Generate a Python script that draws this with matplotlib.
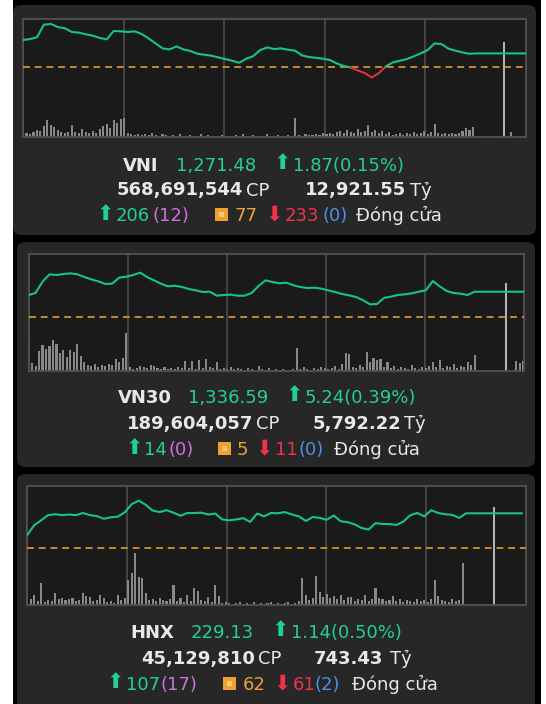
import numpy as np
import matplotlib
matplotlib.use("Agg")
import matplotlib.pyplot as plt
from matplotlib.patches import FancyBboxPatch, Rectangle

plt.rcParams['font.family'] = ['DejaVu Sans']

# ---- index summary data ----
names = ["VNI", "VN30", "HNX"]
close = [1271.48, 1336.59, 229.13]
change = [1.87, 5.24, 1.14]
pct = [0.15, 0.39, 0.50]
shares = [568691544, 189604057, 45129810]
value_bn = [12921.55, 5792.22, 743.43]
advance = [206, 14, 107]
ceiling = [12, 0, 17]
unchanged = [77, 5, 62]
decline = [233, 11, 61]
floor_ = [0, 0, 2]
status = "Đóng cửa"

# ---- intraday price (one value per time slot) ----
vni_price = [1273.26, 1273.39, 1273.62, 1275.30, 1275.40, 1274.99, 1274.82, 1274.33, 1274.24, 1274.02,
             1273.84, 1273.53, 1273.35, 1274.46, 1274.42, 1274.33, 1274.42, 1274.06, 1273.48, 1272.81,
             1272.15, 1272.01, 1272.41, 1272.01, 1271.79, 1271.43, 1271.30, 1271.17, 1270.95, 1270.72,
             1270.50, 1270.23, 1270.77, 1271.12, 1271.92, 1272.28, 1272.06, 1272.15, 1271.97, 1271.84,
             1271.21, 1270.99, 1270.90, 1270.77, 1270.59, 1270.14, 1269.79, 1269.61, 1269.21, 1268.85,
             1268.28, 1268.85, 1269.74, 1270.28, 1270.50, 1270.72, 1271.08, 1271.48, 1271.92, 1272.81,
             1272.72, 1272.10, 1271.84, 1271.61, 1271.43, 1271.48, 1271.48, 1271.48, 1271.48, 1271.48,
             1271.48, 1271.48, 1271.48]
vn30_price = [1335.92, 1336.33, 1338.65, 1340.15, 1340.01, 1340.22, 1340.35, 1340.15, 1339.60, 1339.12,
              1338.72, 1338.17, 1338.24, 1339.47, 1339.67, 1340.01, 1340.49, 1339.60, 1338.92, 1338.24,
              1337.69, 1337.83, 1337.56, 1337.15, 1336.87, 1336.53, 1336.60, 1335.78, 1335.92, 1335.99,
              1335.78, 1335.78, 1336.33, 1337.76, 1338.92, 1338.58, 1338.31, 1338.44, 1337.90, 1337.56,
              1337.35, 1337.42, 1337.22, 1336.87, 1336.53, 1336.12, 1335.85, 1335.51, 1334.83, 1334.01,
              1334.08, 1335.31, 1335.58, 1335.92, 1336.06, 1336.26, 1336.60, 1336.87, 1338.78, 1337.69,
              1336.74, 1336.33, 1336.19, 1335.92, 1336.59, 1336.59, 1336.59, 1336.59, 1336.59, 1336.59,
              1336.59, 1336.59]
hnx_price = [228.42, 228.74, 228.90, 229.07, 229.10, 229.07, 229.09, 229.07, 229.14, 229.07,
             229.04, 228.95, 229.00, 229.02, 229.16, 229.43, 229.54, 229.41, 229.22, 229.17,
             229.23, 229.15, 229.05, 229.14, 229.14, 229.15, 229.09, 229.12, 228.93, 228.90,
             228.93, 228.97, 228.85, 229.12, 229.03, 229.14, 229.13, 229.17, 229.09, 229.03,
             228.88, 229.01, 228.98, 228.92, 229.06, 228.87, 228.84, 228.77, 228.65, 228.60,
             228.81, 228.78, 228.78, 228.75, 228.86, 229.07, 229.14, 229.03, 229.23, 229.14,
             229.10, 229.08, 228.98, 229.13, 229.13, 229.13, 229.13, 229.13, 229.13, 229.13,
             229.13, 229.13]

# ---- matched volume (relative, two bars per time slot) ----
vni_vol = [19, 4, 3, 5, 7, 6, 11, 17, 12, 10, 7, 5, 4, 5, 12, 5, 4, 8, 5, 4,
           6, 4, 8, 11, 13, 9, 17, 14, 18, 19, 4, 3, 2, 3, 2, 3, 2, 4, 2, 1,
           3, 2, 1, 2, 1, 3, 1, 1, 2, 1, 1, 3, 1, 2, 1, 1, 1, 2, 1, 1,
           1, 2, 1, 3, 1, 1, 2, 1, 1, 1, 3, 1, 1, 2, 1, 1, 2, 1, 19, 2,
           1, 3, 2, 2, 3, 2, 4, 3, 4, 3, 5, 6, 4, 7, 5, 4, 8, 5, 6, 12,
           5, 7, 4, 6, 3, 5, 2, 3, 4, 2, 4, 3, 5, 3, 4, 6, 3, 5, 13, 4,
           3, 4, 3, 4, 3, 4, 6, 9, 7, 10, 0, 0, 0, 0, 0, 0, 0, 0, 95, 0, 5]
vn30_vol = [34, 8, 5, 20, 26, 22, 25, 31, 27, 18, 21, 14, 21, 19, 27, 15, 9, 6, 5, 7,
            4, 6, 5, 7, 6, 12, 9, 13, 38, 4, 2, 3, 5, 4, 3, 6, 5, 3, 2, 4,
            2, 3, 2, 4, 3, 10, 3, 10, 2, 11, 3, 12, 4, 3, 9, 2, 3, 2, 4, 2,
            3, 2, 1, 3, 2, 1, 5, 2, 1, 3, 1, 2, 1, 2, 1, 1, 2, 23, 2, 4,
            2, 1, 3, 2, 4, 3, 2, 3, 5, 2, 7, 18, 17, 4, 3, 6, 4, 19, 9, 13,
            11, 12, 4, 9, 3, 5, 2, 4, 3, 2, 6, 3, 2, 4, 3, 5, 9, 4, 11, 3,
            5, 4, 7, 3, 5, 4, 9, 6, 16, 0, 0, 0, 0, 0, 0, 0, 0, 88, 0, 0,
            10, 8, 10]
hnx_vol = [12, 6, 10, 4, 22, 3, 5, 4, 12, 6, 7, 5, 6, 7, 4, 5, 12, 9, 8, 4,
           5, 10, 7, 3, 4, 2, 10, 5, 7, 25, 32, 52, 28, 27, 12, 5, 6, 4, 7, 5,
           4, 6, 20, 4, 7, 3, 10, 4, 17, 14, 5, 4, 8, 3, 20, 9, 2, 3, 2, 1,
           2, 3, 1, 2, 1, 3, 1, 2, 1, 2, 3, 1, 2, 1, 2, 3, 1, 2, 4, 27,
           10, 5, 7, 29, 13, 8, 11, 7, 9, 6, 10, 5, 8, 8, 4, 6, 5, 10, 4, 6,
           17, 7, 6, 4, 5, 9, 4, 6, 3, 5, 4, 3, 6, 4, 5, 3, 6, 25, 9, 5,
           4, 3, 6, 4, 5, 42, 0, 0, 0, 0, 0, 0, 0, 0, 98]

prices = [vni_price, vn30_price, hnx_price]
volumes = [vni_vol, vn30_vol, hnx_vol]

# ---- layout (pixels) ----
W, H = 546, 704
panel_boxes = [(13, 5, 523, 230), (17, 242, 518, 225), (17, 474, 518, 240)]
frames = [(23, 19, 526, 137), (28.6, 254, 524.4, 371), (27.2, 486, 526, 605)]
x_right = [72.1, 71.15, 71.6]
y_ranges = [(1260.35, 1276.06), (1320.37, 1344.31), (226.14, 230.02)]
baselines = [(171, 195.5, 221), (403, 429, 455), (638, 664, 690)]
xpos = [
    dict(name=123, close=176, chg=293, sh=116.5, cp=246, val=304.5, ty=410,
         adv=116, ceil=153, sq=215, unch=235, dec=285, flo=322.5, st=356.5),
    dict(name=118, close=188, chg=305, sh=127, cp=256, val=312.5, ty=404,
         adv=144.5, ceil=169, sq=218, unch=237, dec=275, flo=298, st=334.5),
    dict(name=130, close=191, chg=291, sh=141, cp=258, val=314, ty=389.5,
         adv=125.5, ceil=160, sq=223, unch=243, dec=292.5, flo=315, st=352),
]

GREEN_T = "#22d192"
GREEN_L = "#14c48b"
RED_T = "#f2324b"
RED_L = "#e0303e"
PURPLE = "#cf6fe0"
ORANGE = "#f0a032"
BLUE = "#4f8fe6"
WHITE = "#e8e8e8"
GRID = "#505050"

fig = plt.figure(figsize=(W / 100, H / 100), dpi=100, facecolor="white")
bg = fig.add_axes([0, 0, 1, 1])
bg.set_xlim(0, W)
bg.set_ylim(H, 0)
bg.axis("off")
bg.add_patch(Rectangle((13, 0), 528, H, facecolor="black", edgecolor="none"))
for (x0, y0, w, h) in panel_boxes:
    bg.add_patch(FancyBboxPatch((x0, y0), w, h, boxstyle="round,pad=0,rounding_size=8",
                                facecolor="#272727", edgecolor="none"))

for i in range(3):
    fx0, fy0, fx1, fy1 = frames[i]
    ax = fig.add_axes([fx0 / W, (H - fy1) / H, (fx1 - fx0) / W, (fy1 - fy0) / H])
    vax = ax.twinx()
    ax.set_zorder(vax.get_zorder() + 1)
    ax.patch.set_visible(False)
    vax.patch.set_visible(True)
    vax.patch.set_facecolor("#1a1a1a")

    xmax = x_right[i]
    ax.set_xlim(0, xmax)
    ax.set_ylim(*y_ranges[i])
    vax.set_ylim(0, fy1 - fy0)

    for k in range(1, 5):
        vax.axvline(xmax * k / 5, color=GRID, lw=1.1, zorder=1)

    vol = np.array(volumes[i], dtype=float)
    vx = np.arange(len(vol)) / 2.0
    cols = ["#b4b4b4" if v == vol.max() else "#888888" for v in vol]
    vax.bar(vx, vol, width=0.3, color=cols, align="center", zorder=2, linewidth=0)

    ref = close[i] - change[i]
    ax.axhline(ref, color="#d8902a", lw=1.3, dashes=(3.8, 2.7), zorder=3)

    p = np.array(prices[i])
    x = np.arange(len(p), dtype=float)
    xs, ys = [], []
    for k in range(len(p) - 1):
        xs.append(x[k]); ys.append(p[k])
        if (p[k] - ref) * (p[k + 1] - ref) < 0:
            t = (ref - p[k]) / (p[k + 1] - p[k])
            xs.append(x[k] + t); ys.append(ref)
    xs.append(x[-1]); ys.append(p[-1])
    xs, ys = np.array(xs), np.array(ys)
    up = np.where(ys >= ref - 1e-6, ys, np.nan)
    dn = np.where(ys <= ref + 1e-6, ys, np.nan)
    ax.plot(xs, up, color=GREEN_L, lw=1.5, zorder=4, solid_joinstyle="round")
    ax.plot(xs, dn, color=RED_L, lw=1.5, zorder=4, solid_joinstyle="round")

    for a in (ax, vax):
        a.set_xticks([])
        a.set_yticks([])
        for s in a.spines.values():
            s.set_color(GRID)
            s.set_linewidth(1.1)

    # ---- text rows ----
    px = xpos[i]
    b1, b2, b3 = baselines[i]
    fs = 13

    def put(xx, yy, s, color, bold=False):
        bg.text(xx, yy, s, color=color, fontsize=fs, ha="left", va="baseline",
                fontweight="bold" if bold else "normal")

    def arrow(xx, yy, s, color):
        # arrow glyph placed right before the number it belongs to
        bg.text(xx - 2, yy, s, color=color, fontsize=15, ha="right", va="center")

    put(px["name"], b1, names[i], WHITE, bold=True)
    put(px["close"], b1, f"{close[i]:,.2f}", GREEN_T)
    arrow(px["chg"], b1 - 8, "⬆", GREEN_T)
    put(px["chg"], b1, f"{change[i]:.2f}({pct[i]:.2f}%)", GREEN_T)

    put(px["sh"], b2, f"{shares[i]:,}", WHITE, bold=True)
    put(px["cp"], b2, "CP", WHITE)
    put(px["val"], b2, f"{value_bn[i]:,.2f}", WHITE, bold=True)
    put(px["ty"], b2, "Tỷ", WHITE)

    arrow(px["adv"], b3 - 7.5, "⬆", GREEN_T)
    put(px["adv"], b3, f"{advance[i]}", GREEN_T)
    put(px["ceil"], b3, f"({ceiling[i]})", PURPLE)
    bg.add_patch(Rectangle((px["sq"], b3 - 13), 12.5, 12.5, facecolor=ORANGE, edgecolor="none"))
    bg.add_patch(Rectangle((px["sq"] + 3.5, b3 - 9.5), 5.5, 5.5, facecolor="#f7c878", edgecolor="none"))
    put(px["unch"], b3, f"{unchanged[i]}", ORANGE)
    arrow(px["dec"], b3 - 6.5, "⬇", RED_T)
    put(px["dec"], b3, f"{decline[i]}", RED_T)
    put(px["flo"], b3, f"({floor_[i]})", BLUE)
    put(px["st"], b3, status, WHITE)

fig.savefig("out.png", dpi=100, facecolor=fig.get_facecolor())
